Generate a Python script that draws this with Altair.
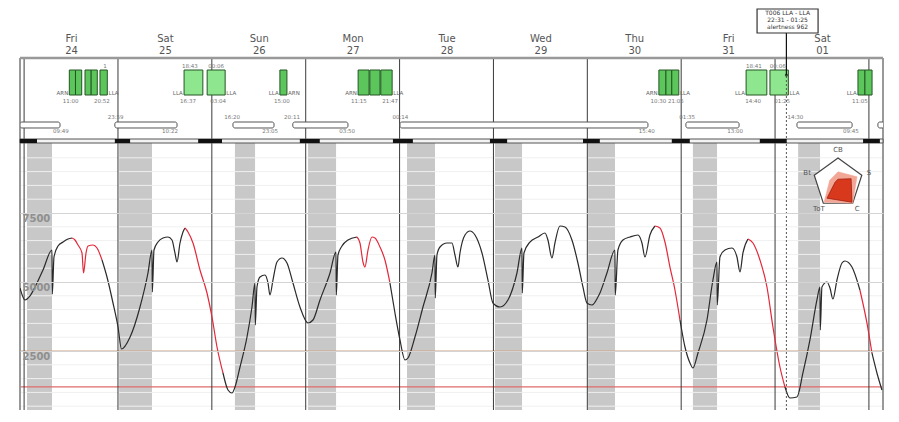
import math
import altair as alt
import pandas as pd

# ---------------- data ----------------
DAY_NAMES = ["Fri", "Sat", "Sun", "Mon", "Tue", "Wed", "Thu", "Fri", "Sat"]
DAY_NUMS = ["24", "25", "26", "27", "28", "29", "30", "31", "01"]
DAY_TICKS = [12, 36, 60, 84, 108, 132, 156, 180, 204]      # hours since Fri 24 00:00
MIDNIGHTS = [0, 24, 48, 72, 96, 120, 144, 168, 192, 216]

Y_TICKS = [2500, 5000, 7500]
MINOR_TICKS = [500, 1000, 1500, 2000, 3000, 3500, 4000, 4500, 5500, 6000, 6500, 7000, 8000, 8500, 9000, 9500]
WARN_LEVEL = [2500]
DANGER_LEVEL = [1200]

SLEEP_START = [0.74, 24.3, 53.9, 72.6, 97.9, 120.4, 144.2, 171.0, 197.9]
SLEEP_END = [7.13, 32.7, 59.05, 79.76, 105.06, 127.31, 151.08, 177.17, 203.5]

CURVE_H = [-1.05, 0.23, 1.51, 2.79, 4.83, 7.13, 7.21, 7.64, 8.67, 9.95, 11.22, 12.25, 13.01, 13.78,
           14.8, 15.19, 15.83, 16.34, 17.62, 18.64, 19.92, 21.19, 22.73, 24.01, 24.9, 27.1, 29.63,
           31.67, 32.7, 32.78, 33.21, 34.23, 35.51, 36.79, 37.81, 38.57, 39.09, 39.86, 40.62, 41.13,
           41.9, 43.18, 44.97, 46.76, 48.04, 49.32, 50.85, 52.13, 53.15, 53.92, 55.2, 56.99, 58.26,
           59.03, 59.11, 59.54, 60.31, 61.59, 62.35, 62.86, 63.63, 64.65, 65.93, 67.21, 68.74, 70.53,
           72.58, 73.86, 75.65, 78.21, 79.74, 79.82, 80.25, 81.27, 82.81, 85.11, 85.87, 86.64, 87.15,
           87.92, 88.94, 89.71, 90.99, 92.26, 93.54, 94.82, 96.1, 97.38, 98.14, 99.93, 101.98, 104.28,
           105.04, 105.12, 105.56, 106.33, 108.12, 109.4, 110.16, 110.93, 111.44, 112.72, 114.0,
           115.28, 117.07, 118.6, 119.88, 121.67, 123.71, 126.01, 127.29, 127.37, 127.8, 129.33,
           131.38, 133.17, 133.93, 134.96, 135.72, 137.0, 138.28, 140.07, 141.6, 142.88, 143.9,
           145.18, 146.72, 147.23, 149.02, 151.06, 151.14, 151.83, 153.11, 154.9, 156.94, 157.97,
           158.73, 160.01, 161.29, 162.57, 163.85, 165.13, 166.41, 167.69, 168.97, 170.25, 171.01,
           172.29, 174.59, 176.12, 177.15, 177.22, 177.91, 179.19, 180.98, 182.26, 183.03, 183.79,
           185.07, 186.35, 188.14, 189.93, 191.46, 193.25, 194.53, 195.81, 197.6, 199.13, 200.92,
           202.71, 203.48, 203.56, 203.99, 205.27, 206.04, 206.8, 207.83, 209.11, 209.87, 211.66,
           213.7, 215.49, 216.77, 218.05, 219.33]
CURVE_V = [4783, 4348, 4493, 4819, 5435, 6159, 4565, 5906, 6304, 6449, 6558, 6594, 6522, 6341,
           6051, 5326, 6051, 6304, 6341, 6232, 5797, 5181, 4239, 3370, 2572, 3007, 4094,
           5326, 6159, 4638, 6159, 6449, 6594, 6630, 6522, 6051, 5725, 6413, 6812, 6957,
           6812, 6413, 5435, 4601, 3732, 2645, 1703, 1087, 978, 1196, 1920, 3007, 4094,
           4964, 3442, 4819, 5181, 5254, 4964, 4529, 5072, 5725, 5870, 5688, 4964, 4094,
           3515, 3623, 4348, 5326, 6087, 4529, 5978, 6304, 6522, 6630, 6413, 5725, 5543,
           6159, 6630, 6594, 6268, 5797, 4964, 3877, 2899, 2174, 2246, 3007, 4094, 5326,
           5978, 4420, 5978, 6268, 6413, 6413, 5978, 5543, 6051, 6703, 6848,
           6703, 6051, 5072, 4239, 4094, 4348, 5326, 6232, 4601, 6051, 6449,
           6630, 6775, 6522, 5870, 6413, 7029, 6993, 6522, 5688, 4819, 4239,
           4167, 4457, 4601, 5326, 6159, 4529, 6159, 6522, 6630, 6703, 6413,
           5906, 6703, 7029, 6957, 6449, 5543, 4710, 3623, 2645, 2065, 1884,
           2428, 3623, 5072, 5725, 4167, 5906, 6159, 6232, 5906, 5362, 6051,
           6558, 6413, 5797, 4819, 3370, 1920, 1196, 797, 833, 1703, 2899,
           4348, 4819, 3261, 4819, 5000, 4783, 4384, 5072, 5688, 5761, 5543,
           4710, 3515, 2428, 1703, 1087]

RED_START = [12.3, 41.1, 85.4, 161.3, 185.1, 213.7]
RED_END = [20.2, 50.9, 94.1, 167.7, 194.5, 216.8]

DUTY_START = [11.56, 13.14, 15.57, 17.15, 19.40, 40.9, 46.8, 65.4, 85.4, 88.4, 91.2,
              162.3, 164.1, 165.6, 184.6, 190.7, 213.2, 214.98]
DUTY_END = [13.14, 14.73, 17.15, 18.71, 21.27, 45.7, 51.4, 67.2, 88.2, 91.0, 94.1,
            164.1, 165.6, 167.4, 189.9, 195.4, 214.98, 216.8]
DUTY_KIND = ["n", "n", "n", "n", "n", "w", "w", "n", "n", "n", "n",
             "n", "n", "n", "w", "w", "n", "n"]

CODE_H = [11.3, 21.6, 40.6, 51.7, 65.1, 67.5, 85.1, 94.4, 162.0, 167.7, 184.3, 195.7, 212.9]
CODE_TEXT = ["ARN", "LLA", "LLA", "LLA", "LLA", "ARN", "ARN", "LLA", "ARN", "LLA", "LLA", "LLA", "LLA"]
CODE_SIDE = ["right", "left", "right", "left", "right", "left", "right", "left", "right", "left",
             "right", "left", "right"]

TIME_H = [11.9, 19.9, 41.9, 49.6, 65.9, 85.6, 93.6, 164.4, 186.4, 193.8, 213.7]
TIME_TEXT = ["11:00", "20:52", "16:37", "03:04", "15:00", "11:15", "21:47", "10:30 21:05",
             "14:40", "01:25", "11:05"]

TOP_H = [20.7, 42.4, 49.1, 186.6, 192.7]
TOP_TEXT = ["1", "18:43", "00:06", "18:41", "00:06"]

REST_START = [-1.05, 23.2, 53.4, 68.7, 96.1, 169.2, 197.6, 218.3]
REST_END = [9.18, 39.1, 63.9, 82.8, 159.5, 182.8, 211.7, 222.0]
REST_START_H = [23.4, 53.2, 68.5, 96.2, 169.5, 197.2]
REST_START_TEXT = ["23:59", "16:20", "20:11", "00:14", "01:35", "14:30"]
REST_END_H = [9.4, 37.3, 62.9, 82.6, 159.2, 181.8, 211.4]
REST_END_TEXT = ["09:49", "10:22", "23:05", "03:50", "15:40", "13:00", "09:45"]

DARK_START = [-1.05, 23.2, 44.5, 70.5, 94.3, 119.1, 142.9, 165.6, 188.1, 214.5]
DARK_END = [3.3, 27.1, 50.6, 75.6, 99.4, 123.5, 147.2, 170.2, 195.0, 218.8]

MARKER_H = 194.9
TOOLTIP_LINES = ["T006 LLA - LLA", "22:31 - 01:25", "alertness 962"]

RADAR_AXES = ["CB", "S", "C", "ToT", "Bt"]
RADAR_OUTER = [0.45, 0.8, 1.0, 0.95, 0.35]
RADAR_INNER = [0.15, 0.55, 0.95, 0.75, 0.12]

# ---------------- layout (value units on the shared y scale) ----------------
X_MIN, X_MAX = -1.05, 219.6
Y_MIN, Y_MAX = 362, 13116
STRIP_LO, STRIP_HI = 10036, 10181
REST_LO, REST_HI = 10580, 10797
DUTY_LO, DUTY_HI = 11775, 12681
LBL_TOP, LBL_SIDE, LBL_BELOW = 12826, 11848, 11558
REST_LBL_TOP, REST_LBL_BOT = 10978, 10471
TIP_LO, TIP_HI = 14022, 14891
TIP_ROWS = [14746, 14493, 14239]
MARKER_DOT = 12500
TIP_X0, TIP_X1 = 187.4, 203.0
RADAR_HC, RADAR_VC, RADAR_RX, RADAR_RY = 208.1, 8587, 6.39, 906

XS = alt.Scale(domain=[X_MIN, X_MAX], nice=False, zero=False)
YS = alt.Scale(domain=[Y_MIN, Y_MAX], nice=False, zero=False)
FONT = "DejaVu Sans"

label_expr = "[" + ",".join(f"['{a}','{b}']" for a, b in zip(DAY_NAMES, DAY_NUMS)) + "][floor(datum.value/24)]"

XAX = alt.Axis(
    orient="top", values=DAY_TICKS, labelExpr=label_expr, ticks=False, tickSize=0,
    domain=False, grid=False, labelPadding=15, labelFontSize=10, labelColor="#555",
    labelLineHeight=12, labelAngle=0, title=None, labelFlush=False, labelOverlap=False,
    labelFont=FONT)
YAX = alt.Axis(
    values=Y_TICKS, format="d", labelAlign="left", labelPadding=-2, labelBaseline="top", labelOffset=1,
    ticks=False, tickSize=0, domain=False, grid=True, gridColor="#d4d4d4", labelFontSize=10,
    labelFontWeight="bold", labelColor="#8f8f8f", title=None, labelFlush=False, zindex=1,
    labelFont=FONT)


def X(f, **kw):
    return alt.X(f, type="quantitative", scale=XS, axis=XAX, **kw)


def Y(f, **kw):
    return alt.Y(f, type="quantitative", scale=YS, axis=YAX, **kw)


# sleep bands
sleep_df = pd.DataFrame({"s": SLEEP_START, "e": SLEEP_END, "lo": Y_MIN, "hi": STRIP_LO})
bands = alt.Chart(sleep_df).mark_rect(color="#c8c8c8").encode(
    x=X("s"), x2="e:Q", y=Y("lo"), y2="hi:Q")

minor_df = pd.DataFrame({"v": MINOR_TICKS})
minor = alt.Chart(minor_df).mark_rule(color="#f0f0f0", strokeWidth=1).encode(y=Y("v"))

warn = alt.Chart(pd.DataFrame({"v": WARN_LEVEL})).mark_rule(color="#d4a17e", strokeWidth=1.2).encode(y=Y("v"))
danger = alt.Chart(pd.DataFrame({"v": DANGER_LEVEL})).mark_rule(color="#e06a6a", strokeWidth=1.2).encode(y=Y("v"))

mid_df = pd.DataFrame({"h": MIDNIGHTS})
midnights = alt.Chart(mid_df).mark_rule(color="#3a3a3a", strokeWidth=1).encode(x=X("h"))

# frame (left, right, top; bottom runs off the page)
frame_v = alt.Chart(pd.DataFrame({"h": [X_MIN, X_MAX]})).mark_rule(color="#999", strokeWidth=2).encode(x=X("h"))
frame_t = alt.Chart(pd.DataFrame({"v": [Y_MAX]})).mark_rule(color="#999", strokeWidth=2.5).encode(y=Y("v"))

# curve split into black / red runs
def in_red(h):
    return any(a <= h <= b for a, b in zip(RED_START, RED_END))

rows = []
seg, last = -1, None
for i in range(len(CURVE_H) - 1):
    c = "r" if in_red((CURVE_H[i] + CURVE_H[i + 1]) / 2) else "k"
    if c != last:
        seg += 1
        rows.append({"h": CURVE_H[i], "v": CURVE_V[i], "seg": seg, "c": c, "o": i})
        last = c
    rows.append({"h": CURVE_H[i + 1], "v": CURVE_V[i + 1], "seg": seg, "c": c, "o": i + 1})
curve_df = pd.DataFrame(rows)
curve = alt.Chart(curve_df).mark_line(strokeWidth=1.2, clip=True, interpolate="monotone").encode(
    x=X("h"), y=Y("v"),
    color=alt.Color("c:N", scale=alt.Scale(domain=["k", "r"], range=["#2a2a2a", "#e3283a"]), legend=None),
    detail="seg:N", order="o:Q",
)

# radar inset
def radar_rows(vals, name):
    out = []
    for k, r in enumerate(vals):
        a = math.radians(72 * k)
        out.append({"h": RADAR_HC + r * math.sin(a) * RADAR_RX,
                    "v": RADAR_VC + r * math.cos(a) * RADAR_RY, "o": k, "p": name})
    return pd.DataFrame(out)

pent = alt.Chart(radar_rows([1] * 5, "frame")).mark_line(
    interpolate="linear-closed", fill="white", stroke="#444", strokeWidth=1.2).encode(
    x=X("h"), y=Y("v"), order="o:Q")
outer = alt.Chart(radar_rows(RADAR_OUTER, "outer")).mark_line(
    interpolate="linear-closed", fill="#f2a696", stroke="#f2a696", strokeWidth=0.5).encode(
    x=X("h"), y=Y("v"), order="o:Q")
inner = alt.Chart(radar_rows(RADAR_INNER, "inner")).mark_line(
    interpolate="linear-closed", fill="#d8381c", stroke="#a02010", strokeWidth=0.8).encode(
    x=X("h"), y=Y("v"), order="o:Q")
lab_df = radar_rows([1.3] * 5, "lab")
lab_df["t"] = RADAR_AXES
radar_labels = alt.Chart(lab_df).mark_text(fontSize=7, color="#555", font=FONT).encode(
    x=X("h"), y=Y("v"), text="t:N")

# top panel: separator strip
strip_df = pd.DataFrame({"s": [X_MIN], "e": [X_MAX], "lo": [STRIP_LO], "hi": [STRIP_HI]})
strip = alt.Chart(strip_df).mark_rect(fill="#f3f3f3", stroke="#555", strokeWidth=1).encode(
    x=X("s"), x2="e:Q", y=Y("lo"), y2="hi:Q")
dark_df = pd.DataFrame({"s": DARK_START, "e": DARK_END, "lo": STRIP_LO, "hi": STRIP_HI})
dark = alt.Chart(dark_df).mark_rect(color="#111", clip=True).encode(
    x=X("s"), x2="e:Q", y=Y("lo"), y2="hi:Q")

# rest bars
rest_df = pd.DataFrame({"s": REST_START, "e": REST_END, "lo": REST_LO, "hi": REST_HI})
rest = alt.Chart(rest_df).mark_rect(fill="white", stroke="#555", strokeWidth=1, cornerRadius=2,
                                    clip=True).encode(
    x=X("s"), x2="e:Q", y=Y("lo"), y2="hi:Q")
rs_df = pd.DataFrame({"h": REST_START_H, "t": REST_START_TEXT, "v": REST_LBL_TOP})
rest_start_lbl = alt.Chart(rs_df).mark_text(fontSize=5.5, color="#777", align="center", font=FONT).encode(
    x=X("h"), y=Y("v"), text="t:N")
re_df = pd.DataFrame({"h": REST_END_H, "t": REST_END_TEXT, "v": REST_LBL_BOT})
rest_end_lbl = alt.Chart(re_df).mark_text(fontSize=5.5, color="#777", align="center", font=FONT).encode(
    x=X("h"), y=Y("v"), text="t:N")

# duties
duty_df = pd.DataFrame({"s": DUTY_START, "e": DUTY_END, "k": DUTY_KIND, "lo": DUTY_LO, "hi": DUTY_HI})
duties = alt.Chart(duty_df).mark_rect(stroke="#245524", strokeWidth=1).encode(
    x=X("s"), x2="e:Q", y=Y("lo"), y2="hi:Q",
    fill=alt.Fill("k:N", scale=alt.Scale(domain=["n", "w"], range=["#5cc65c", "#8ee68e"]), legend=None),
)
code_df = pd.DataFrame({"h": CODE_H, "t": CODE_TEXT, "a": CODE_SIDE, "v": LBL_SIDE})
codes_r = alt.Chart(code_df[code_df.a == "right"]).mark_text(
    fontSize=5.5, color="#666", align="right", font=FONT).encode(x=X("h"), y=Y("v"), text="t:N")
codes_l = alt.Chart(code_df[code_df.a == "left"]).mark_text(
    fontSize=5.5, color="#666", align="left", font=FONT).encode(x=X("h"), y=Y("v"), text="t:N")
time_df = pd.DataFrame({"h": TIME_H, "t": TIME_TEXT, "v": LBL_BELOW})
times = alt.Chart(time_df).mark_text(fontSize=5.5, color="#777", font=FONT).encode(
    x=X("h"), y=Y("v"), text="t:N")
top_df = pd.DataFrame({"h": TOP_H, "t": TOP_TEXT, "v": LBL_TOP})
tops = alt.Chart(top_df).mark_text(fontSize=5.5, color="#777", font=FONT).encode(
    x=X("h"), y=Y("v"), text="t:N")

# current-time marker and tooltip
mk_df = pd.DataFrame({"h": [MARKER_H], "lo": [Y_MIN], "mid": [MARKER_DOT], "hi": [TIP_LO]})
marker_dotted = alt.Chart(mk_df).mark_rule(color="#555", strokeDash=[2, 2], strokeWidth=1).encode(
    x=X("h"), y=Y("lo"), y2="mid:Q")
marker_solid = alt.Chart(mk_df).mark_rule(color="#111", strokeWidth=1.2, clip=False).encode(
    x=X("h"), y=Y("mid"), y2="hi:Q")
marker_dot = alt.Chart(mk_df).mark_point(filled=True, color="#111", size=10).encode(
    x=X("h"), y=Y("mid"))
tip_df = pd.DataFrame({"s": [TIP_X0], "e": [TIP_X1], "lo": [TIP_LO], "hi": [TIP_HI]})
tip_box = alt.Chart(tip_df).mark_rect(fill="white", stroke="#333", strokeWidth=1.2, clip=False).encode(
    x=X("s"), x2="e:Q", y=Y("lo"), y2="hi:Q")
tipt_df = pd.DataFrame({"h": (TIP_X0 + TIP_X1) / 2, "v": TIP_ROWS, "t": TOOLTIP_LINES})
tip_text = alt.Chart(tipt_df).mark_text(fontSize=6, color="#333", font=FONT, clip=False).encode(
    x=X("h"), y=Y("v"), text="t:N")

chart = alt.layer(
    bands, minor, warn, danger, midnights, frame_v, frame_t, curve, pent, outer, inner, radar_labels,
    strip, dark, rest, rest_start_lbl, rest_end_lbl, duties, codes_r, codes_l, times, tops,
    marker_dotted, marker_solid, marker_dot, tip_box, tip_text,
).properties(
    width=863, height=352,
    autosize=alt.AutoSizeParams(type="none"),
    padding={"left": 12, "top": 50, "right": 8, "bottom": 0},
    background="white",
).configure_view(stroke=None).configure(font=FONT)

chart.save("out.html", embed_options={"renderer": "svg", "actions": False})
